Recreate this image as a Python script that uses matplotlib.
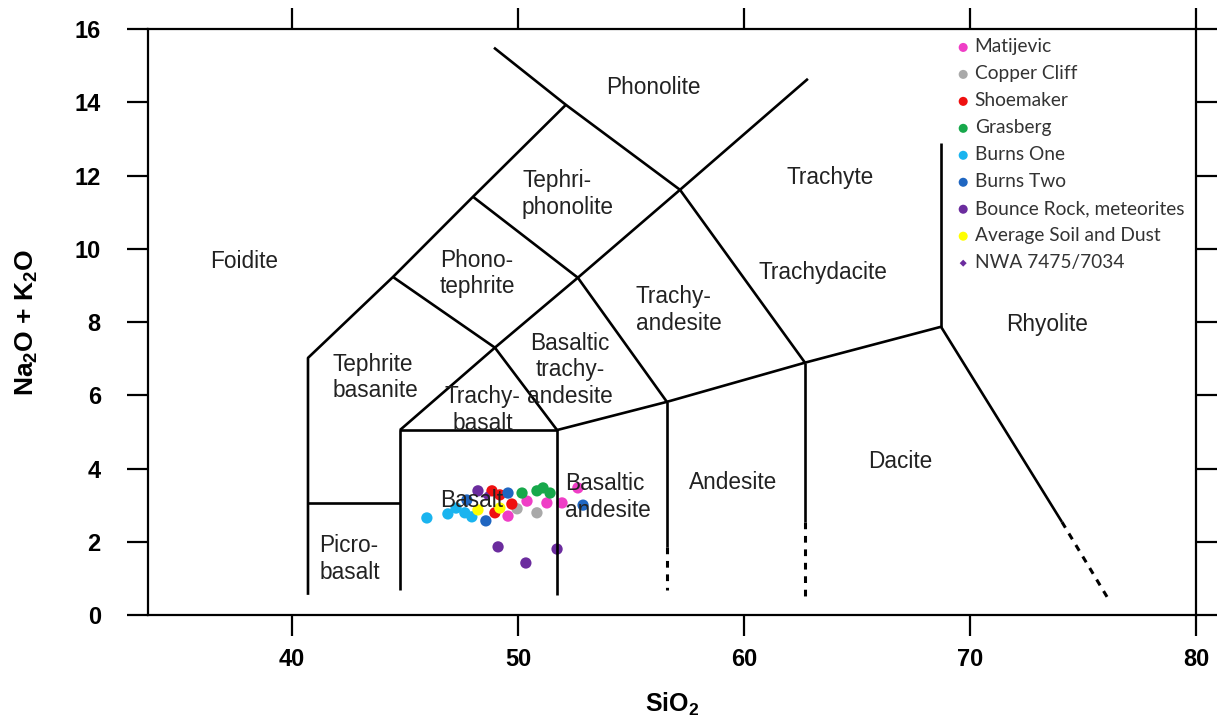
import matplotlib.pyplot as plt

plt.rcParams['font.family'] = ['Liberation Sans', 'DejaVu Sans']
plt.rcParams['mathtext.fontset'] = 'custom'
plt.rcParams['mathtext.rm'] = 'Liberation Sans'
plt.rcParams['mathtext.bf'] = 'Liberation Sans:bold'

# TAS field boundaries (SiO2, Na2O + K2O)
solid_lines = [
    [(40.71, 0.55), (40.71, 7.02), (44.47, 9.23), (48.01, 11.42), (52.12, 13.93), (48.94, 15.49)],
    [(40.71, 3.06), (44.78, 3.06)],
    [(44.78, 0.68), (44.78, 5.05), (51.73, 5.05), (51.73, 0.55)],
    [(52.12, 13.93), (57.17, 11.61), (62.70, 6.89)],
    [(44.47, 9.23), (48.98, 7.30), (51.73, 5.05)],
    [(44.78, 5.05), (48.98, 7.30), (52.65, 9.21), (57.17, 11.61), (62.83, 14.64)],
    [(48.01, 11.42), (52.65, 9.21), (56.59, 5.82)],
    [(51.73, 5.05), (56.59, 5.82), (62.70, 6.89), (68.72, 7.87)],
    [(56.59, 5.82), (56.59, 1.86)],
    [(62.70, 6.89), (62.70, 2.54)],
    [(68.72, 7.87), (68.72, 12.9)],
    [(68.72, 7.87), (74.07, 2.54)],
]
dotted_lines = [
    [(56.59, 1.86), (56.59, 0.68)],
    [(62.70, 2.54), (62.70, 0.46)],
    [(74.07, 2.54), (76.1, 0.46)],
]

# field names: text, x, y, horizontal alignment
field_labels = [
    ('Foidite', 37.9, 9.64, 'center'),
    ('Phonolite', 55.97, 14.4, 'center'),
    ('Tephri-\nphonolite', 50.18, 11.5, 'left'),
    ('Trachyte', 63.8, 11.94, 'center'),
    ('Phono-\ntephrite', 46.55, 9.32, 'left'),
    ('Trachydacite', 63.5, 9.34, 'center'),
    ('Trachy-\nandesite', 55.22, 8.33, 'left'),
    ('Tephrite\nbasanite', 41.81, 6.49, 'left'),
    ('Basaltic\ntrachy-\nandesite', 52.3, 6.69, 'center'),
    ('Trachy-\nbasalt', 48.45, 5.6, 'center'),
    ('Rhyolite', 73.4, 7.92, 'center'),
    ('Dacite', 66.9, 4.18, 'center'),
    ('Andesite', 59.5, 3.63, 'center'),
    ('Basaltic\nandesite', 52.08, 3.22, 'left'),
    ('Basalt', 47.96, 3.14, 'center'),
    ('Picro-\nbasalt', 41.2, 1.53, 'left'),
]

# samples
matijevic_x = [50.40, 51.28, 51.95, 49.56, 52.65]
matijevic_y = [3.11, 3.06, 3.06, 2.70, 3.47]
copper_x = [49.96, 50.84]
copper_y = [2.90, 2.79]
shoemaker_x = [48.85, 48.98, 49.73, 49.2]
shoemaker_y = [3.39, 2.79, 3.03, 3.28]
grasberg_x = [50.18, 50.84, 51.11, 51.42]
grasberg_y = [3.33, 3.39, 3.47, 3.33]
burns1_x = [45.97, 46.90, 47.65, 47.96, 47.26]
burns1_y = [2.65, 2.76, 2.79, 2.68, 2.92]
burns2_x = [48.58, 49.56, 52.88, 47.74]
burns2_y = [2.57, 3.33, 3.00, 3.14]
bounce_x = [48.23, 49.12, 50.35, 51.73]
bounce_y = [3.39, 1.86, 1.42, 1.80]
soil_x = [48.23, 49.2]
soil_y = [2.87, 2.92]
nwa_x = [48.6]
nwa_y = [3.25]

series = [
    ('Matijevic', '#ef3ec6', 'o', matijevic_x, matijevic_y),
    ('Copper Cliff', '#a9a9a9', 'o', copper_x, copper_y),
    ('Shoemaker', '#ef1010', 'o', shoemaker_x, shoemaker_y),
    ('Grasberg', '#17a84b', 'o', grasberg_x, grasberg_y),
    ('Burns One', '#1ab4ef', 'o', burns1_x, burns1_y),
    ('Burns Two', '#1f66c1', 'o', burns2_x, burns2_y),
    ('Bounce Rock, meteorites', '#6b2c9e', 'o', bounce_x, bounce_y),
    ('Average Soil and Dust', '#ffff00', 'o', soil_x, soil_y),
    ('NWA 7475/7034', '#6b2c9e', 'D', nwa_x, nwa_y),
]

fig = plt.figure(figsize=(12.2, 7.22), dpi=100)
ax = fig.add_axes([0.1213, 0.1482, 0.8590, 0.8116])

for seg in solid_lines:
    xs, ys = zip(*seg)
    ax.plot(xs, ys, color='black', lw=1.9, zorder=3, solid_capstyle='butt')
for seg in dotted_lines:
    xs, ys = zip(*seg)
    ax.plot(xs, ys, color='black', lw=2.2, ls=(0, (2.2, 2.2)), zorder=3)

handles = []
for name, col, mk, xs, ys in series:
    size = 66 if mk == 'o' else 20
    h = ax.scatter(xs, ys, s=size, c=col, marker=mk, edgecolors='none', zorder=2, label=name)
    handles.append(h)

for txt, x, y, ha in field_labels:
    ax.text(x, y, txt, ha=ha, va='center', multialignment=ha,
            fontsize=16.3, color='#222222', linespacing=1.2, zorder=4)

ax.set_xlim(33.63, 80)
ax.set_ylim(0, 16)
ax.set_xticks([40, 50, 60, 70, 80])
ax.set_yticks(range(0, 17, 2))
ax.tick_params(direction='out', length=15, width=1.6, top=True, right=True,
               labeltop=False, labelright=False, labelsize=17)
ax.tick_params(axis='y', pad=19)
ax.tick_params(axis='x', pad=9)
for lab in ax.get_xticklabels() + ax.get_yticklabels():
    lab.set_fontweight('bold')
for sp in ax.spines.values():
    sp.set_linewidth(1.6)

ax.set_xlabel('SiO$_\\mathbf{2}$', fontsize=18, fontweight='bold', labelpad=14)
ax.set_ylabel('Na$_\\mathbf{2}$O + K$_\\mathbf{2}$O', fontsize=19, fontweight='bold', labelpad=25)

leg = ax.legend(handles=handles, loc='upper left', bbox_to_anchor=(0.773, 0.960),
                bbox_transform=fig.transFigure, frameon=False,
                prop={'family': 'Lato', 'size': 13.8}, labelspacing=0.52,
                handletextpad=0.05, handlelength=1.1, borderpad=0, markerscale=0.8)
for t in leg.get_texts():
    t.set_color('#333333')

fig.savefig('out.png', dpi=100)
